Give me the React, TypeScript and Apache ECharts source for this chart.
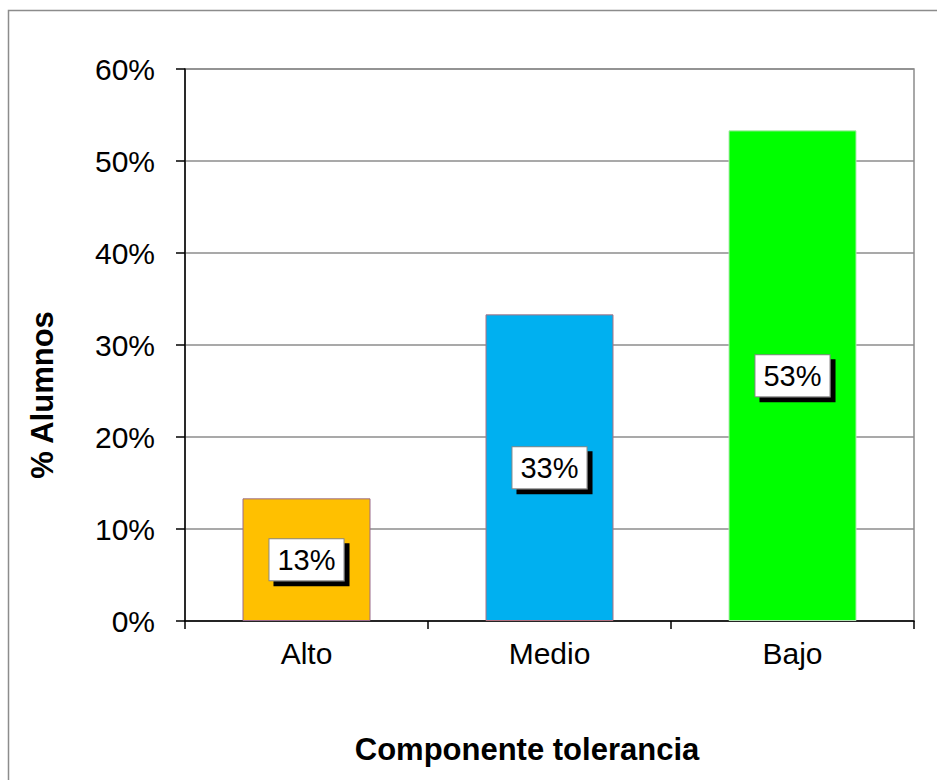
import React, { useEffect, useRef } from "react";
import * as echarts from "echarts";

const categories = ["Alto", "Medio", "Bajo"];
const values = [13.33, 33.33, 53.33];
const barColors = ["#FFC000", "#00B0F0", "#00FF00"];
const barBorders = ["#9a6a8a", "#b07080", "#b0e8b0"];
const yTicks = [0, 10, 20, 30, 40, 50, 60];
const xTitle = "Componente tolerancia";
const yTitle = "% Alumnos";

const FONT = "'Liberation Sans', Arial, sans-serif";

export default function App() {
  const ref = useRef<HTMLDivElement>(null);
  useEffect(() => {
    document.body.style.margin = "0";
    const chart = echarts.init(ref.current!, null, { renderer: "svg" });
    chart.setOption({
      animation: false,
      backgroundColor: "#ffffff",
      textStyle: { fontFamily: FONT },
      grid: {
        left: 185,
        right: 23,
        top: 69,
        bottom: 159,
        show: true,
        borderColor: "#8c8c8c",
        borderWidth: 1.5,
        containLabel: false,
      },
      xAxis: {
        type: "category",
        data: categories,
        axisLine: { lineStyle: { color: "#000", width: 1.5 } },
        axisTick: { show: true, length: 8, lineStyle: { color: "#000", width: 1.5 } },
        axisLabel: { color: "#000", fontSize: 30, fontFamily: FONT, margin: 17 },
        splitLine: { show: false },
      },
      yAxis: {
        type: "value",
        min: yTicks[0],
        max: yTicks[yTicks.length - 1],
        interval: 10,
        axisLine: { show: true, lineStyle: { color: "#000", width: 1.5 } },
        axisTick: { show: true, length: 9, lineStyle: { color: "#000", width: 1.5 } },
        axisLabel: { color: "#000", fontSize: 30, fontFamily: FONT, margin: 30, formatter: "{value}%" },
        splitLine: { show: true, lineStyle: { color: "#8c8c8c", width: 1.5 } },
      },
      series: [
        {
          type: "bar",
          barWidth: 128,
          data: values.map((v, i) => ({
            value: v,
            itemStyle: { color: barColors[i], borderColor: barBorders[i], borderWidth: 1 },
          })),
          label: {
            show: true,
            position: "inside",
            formatter: (p: any) => Math.round(p.value) + "%",
            color: "#000",
            fontSize: 29,
            fontFamily: FONT,
            lineHeight: 30,
            backgroundColor: "#ffffff",
            borderColor: "#888888",
            borderWidth: 1,
            padding: [6, 8, 5, 8],
            shadowColor: "#000000",
            shadowBlur: 0,
            shadowOffsetX: 5,
            shadowOffsetY: 5,
          },
        },
      ],
      graphic: [
        {
          type: "rect",
          shape: { x: 8.5, y: 10.5, width: 1000, height: 1000 },
          style: { fill: "none", stroke: "#8c8c8c", lineWidth: 1.5 },
          silent: true,
        },
        {
          type: "text",
          x: 527,
          y: 749,
          style: {
            text: xTitle,
            fontSize: 31,
            fontWeight: "bold",
            fontFamily: FONT,
            fill: "#000",
            align: "center",
            verticalAlign: "middle",
          },
        },
        {
          type: "text",
          x: 42,
          y: 395,
          rotation: Math.PI / 2,
          style: {
            text: yTitle,
            fontSize: 31,
            fontWeight: "bold",
            fontFamily: FONT,
            fill: "#000",
            align: "center",
            verticalAlign: "middle",
          },
        },
      ],
    });
    return () => chart.dispose();
  }, []);
  return <div ref={ref} style={{ width: 937, height: 780 }} />;
}
